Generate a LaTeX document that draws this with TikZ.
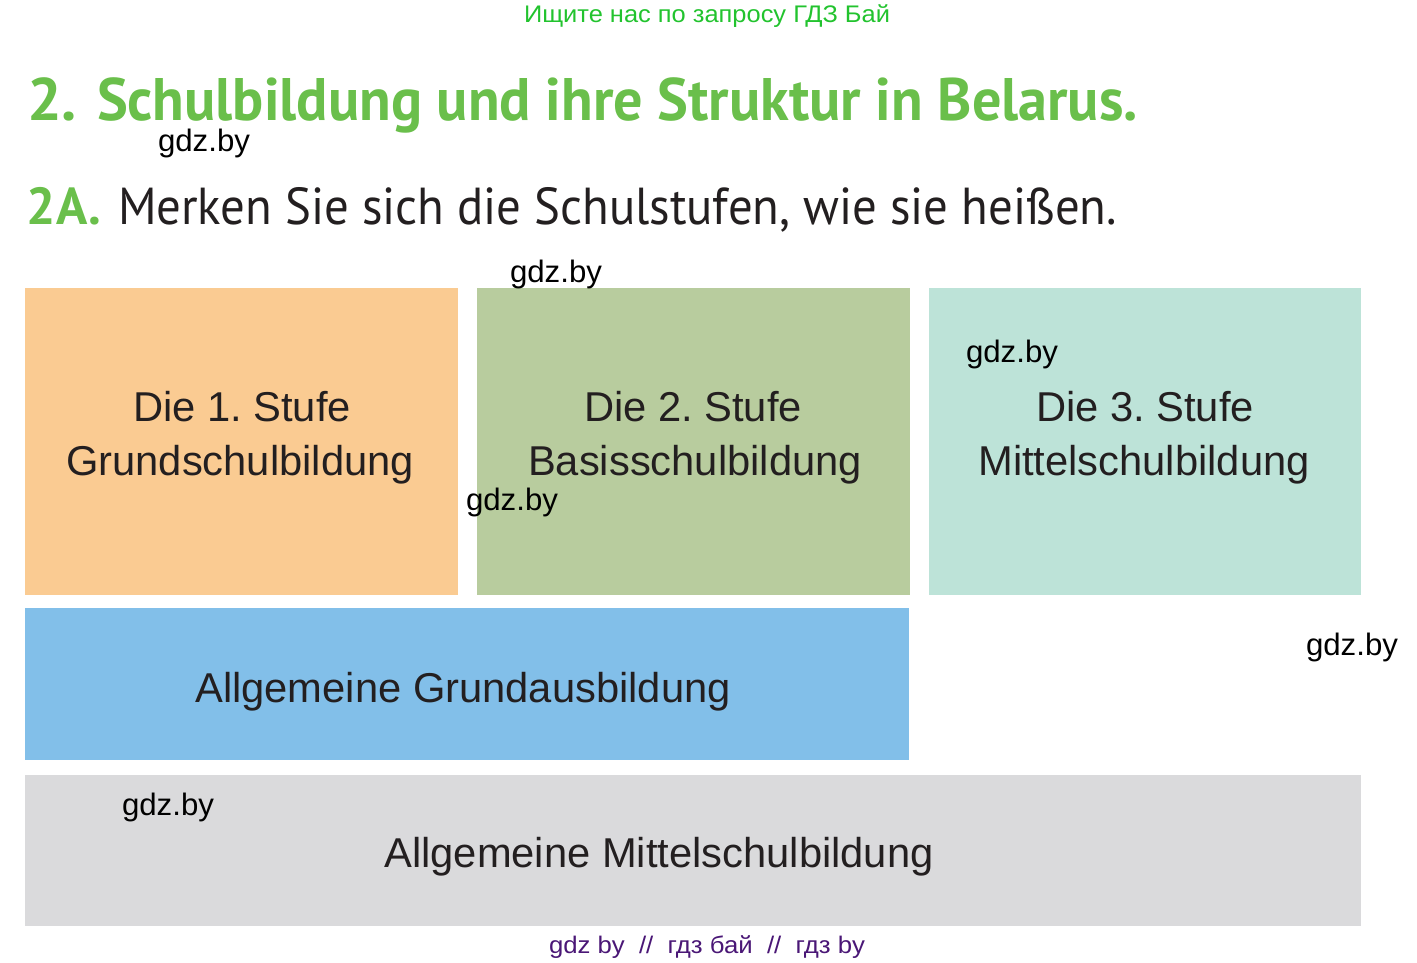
\documentclass[tikz,border=0pt]{standalone}
\usepackage{fontspec}
\usepackage{graphicx}
\setmainfont{Liberation Sans}
\newfontfamily\headfont{PT Sans}
\frenchspacing
\definecolor{cOrange}{HTML}{FACB92}
\definecolor{cGreen}{HTML}{B8CC9E}
\definecolor{cTeal}{HTML}{BDE3D8}
\definecolor{cBlue}{HTML}{82BFE9}
\definecolor{cGray}{HTML}{DADADC}
\definecolor{cTitle}{HTML}{6ABF4B}
\definecolor{cMark}{HTML}{22C32E}
\definecolor{cPurple}{HTML}{4A1776}
\definecolor{cText}{HTML}{231F20}
\newlength\fitwd
\newcommand\fitx[2]{\settowidth\fitwd{#2}\pgfmathsetmacro\fitfac{#1/\fitwd}\scalebox{\fitfac}[1]{#2}}
\tikzset{
  panel/.style={draw=none, inner sep=0pt, outer sep=0pt, anchor=north west},
  lbl/.style={inner sep=0pt, outer sep=0pt, anchor=base, text=cText},
  lblw/.style={inner sep=0pt, outer sep=0pt, anchor=base west},
  boxtext/.style={lbl, font=\fontsize{41.7}{50}\selectfont},
  wmark/.style={lblw, font=\fontsize{31}{36}\selectfont, text=black},
}
\begin{document}
\begin{tikzpicture}[x=1pt,y=-1pt]
\useasboundingbox (0,0) rectangle (1417,962);
% panels
\node[panel, fill=cOrange, minimum width=433, minimum height=307] (p1) at (25,288) {};
\node[panel, fill=cGreen, minimum width=433, minimum height=307] (p2) at (477,288) {};
\node[panel, fill=cTeal, minimum width=432, minimum height=307] (p3) at (929,288) {};
\node[panel, fill=cBlue, minimum width=884, minimum height=152] (p4) at (25,608) {};
\node[panel, fill=cGray, minimum width=1336, minimum height=151] (p5) at (25,775) {};
% header texts
\node[lbl, text=cMark, font=\fontsize{24}{28}\selectfont] (top) at (707,22) {\fitx{366}{Ищите нас по запросу ГДЗ Бай}};
\node[lblw, text=cTitle, font=\headfont\bfseries\fontsize{60}{70}\selectfont] (title2) at (27,120) {\fitx{50}{2.}};
\node[lblw, text=cTitle, font=\headfont\bfseries\fontsize{60}{70}\selectfont] (title) at (97,120) {\fitx{1041}{Schulbildung und ihre Struktur in Belarus.}};
\node[lblw, text=cTitle, font=\headfont\bfseries\fontsize{52}{60}\selectfont] (sub2a) at (27,224) {\fitx{74}{2A.}};
\node[lblw, text=cText, font=\headfont\fontsize{52}{60}\selectfont] (sub) at (118,224) {\fitx{999}{Merken Sie sich die Schulstufen, wie sie heißen.}};
% box texts
\node[boxtext] (t1a) at (242,421) {Die 1. Stufe};
\node[boxtext] (t1b) at (240,475) {Grundschulbildung};
\node[boxtext] (t2a) at (693,421) {Die 2. Stufe};
\node[boxtext] (t2b) at (695,475) {Basisschulbildung};
\node[boxtext] (t3a) at (1145,421) {Die 3. Stufe};
\node[boxtext] (t3b) at (1144,475) {Mittelschulbildung};
\node[boxtext] (t4) at (463,702) {Allgemeine Grundausbildung};
\node[boxtext] (t5) at (659,867) {Allgemeine Mittelschulbildung};
% watermarks
\node[wmark] (m1) at (158,151) {\fitx{92}{gdz.by}};
\node[wmark] (m2) at (510,282) {\fitx{92}{gdz.by}};
\node[wmark] (m3) at (966,362) {\fitx{92}{gdz.by}};
\node[wmark] (m4) at (466,510) {\fitx{92}{gdz.by}};
\node[wmark] (m5) at (1306,655) {\fitx{92}{gdz.by}};
\node[wmark] (m6) at (122,815) {\fitx{92}{gdz.by}};
\node[lbl, text=cPurple, font=\fontsize{24}{28}\selectfont] (bot) at (707,953) {\fitx{316}{gdz by\ \ //\ \ гдз бай\ \ //\ \ гдз by}};
\end{tikzpicture}
\end{document}
